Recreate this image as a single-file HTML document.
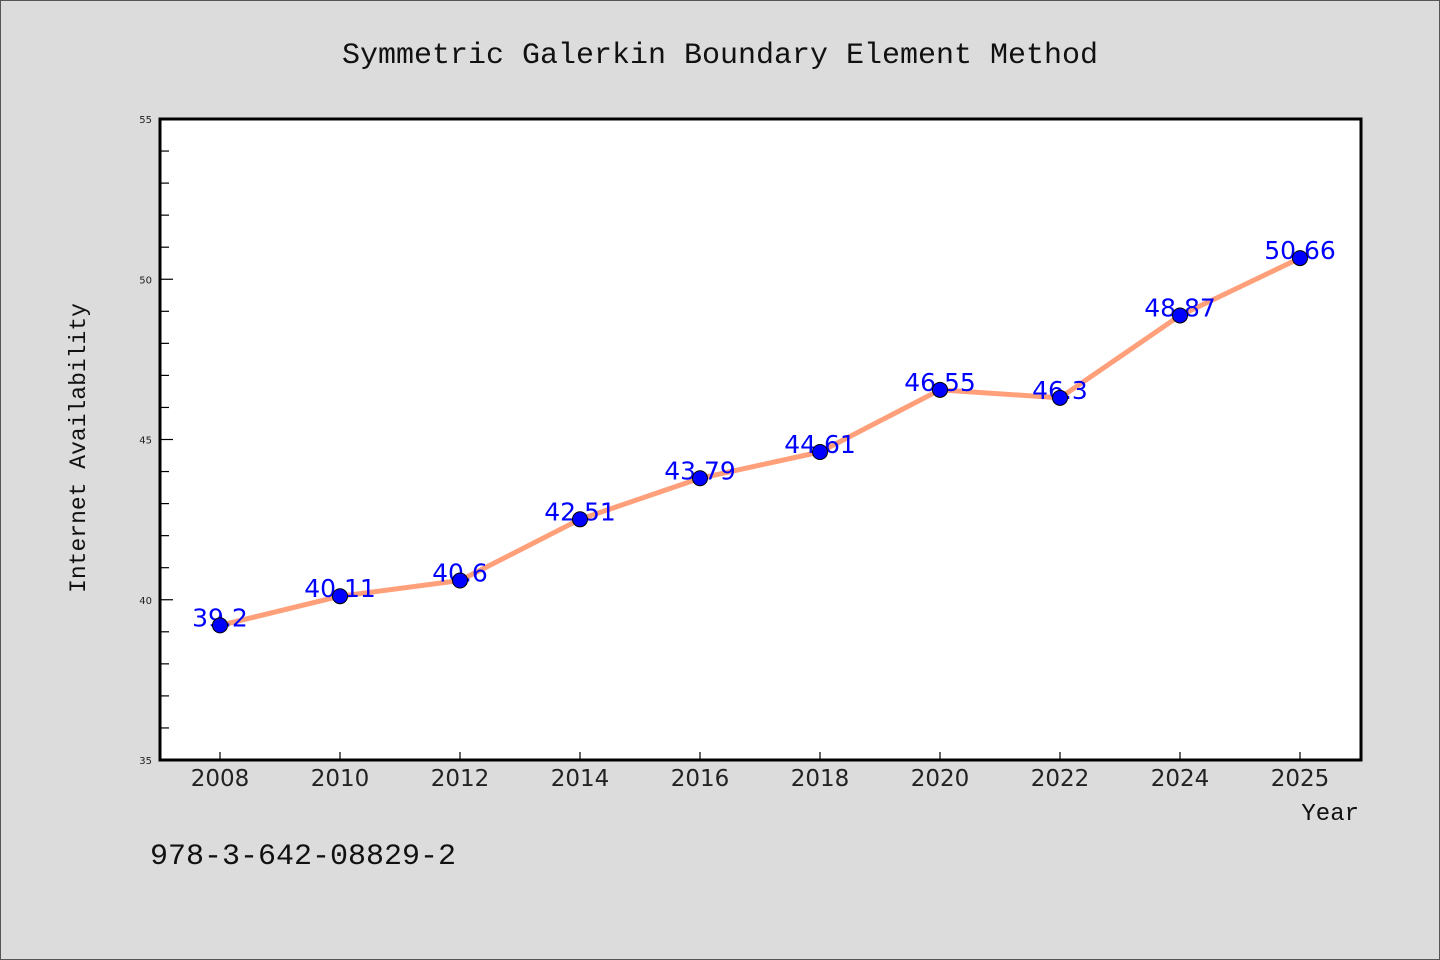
<!DOCTYPE html>
<html><head><meta charset="utf-8"><style>
html,body{margin:0;padding:0;background:#dcdcdc;}
svg{display:block;}
</style></head><body>
<svg id="chart" width="1440" height="960" xmlns="http://www.w3.org/2000/svg">
<rect x="0.5" y="0.5" width="1439" height="959" fill="#dcdcdc" stroke="#555"/>
<text x="720" y="63" text-anchor="middle" font-family="Liberation Mono, monospace" font-size="30" fill="#111">Symmetric Galerkin Boundary Element Method</text>
<rect x="160" y="119" width="1201" height="641" fill="#fff" stroke="#000" stroke-width="3"/>
<g id="yaxis"></g>
<g id="xaxis"></g>
<g id="series"></g>
<text transform="translate(85,448) rotate(-90)" text-anchor="middle" font-family="Liberation Mono, monospace" font-size="23" fill="#111">Internet Availability</text>
<text x="1359" y="820" text-anchor="end" font-family="Liberation Mono, monospace" font-size="24" fill="#111">Year</text>
<text x="150" y="864" font-family="Liberation Mono, monospace" font-size="30" fill="#111">978-3-642-08829-2</text>
</svg>
<script>
const categories = ["2008","2010","2012","2014","2016","2018","2020","2022","2024","2025"];
const values = [39.2,40.11,40.6,42.51,43.79,44.61,46.55,46.3,48.87,50.66];
const yTicks = [35,40,45,50,55];
const yMin = 35, yMax = 55;
const NS = "http://www.w3.org/2000/svg";
const L = 160, R = 1361, T = 119, B = 760;
function y(v){ return B - (v - yMin) / (yMax - yMin) * (B - T); }
function x(i){ return 220 + i * 120; }
function mk(tag, attrs, parent){ const e = document.createElementNS(NS, tag); for (const k in attrs) e.setAttribute(k, attrs[k]); parent.appendChild(e); return e; }
const ya = document.getElementById('yaxis'), xa = document.getElementById('xaxis'), sg = document.getElementById('series');
for (let v = yMin; v <= yMax; v++) {
  const major = yTicks.includes(v);
  const t = mk('line', {x1: L, x2: L + (major ? 13 : 9), y1: y(v), y2: y(v), stroke: '#000', 'stroke-width': 1.2}, ya);
  
  
}
yTicks.forEach(v => {
  const t = mk('text', {x: 152, y: y(v) + 4, 'text-anchor': 'end', 'font-family': 'DejaVu Sans, sans-serif', 'font-size': 10, fill: '#222'}, ya);
  t.textContent = v;
  
  
});
categories.forEach((c, i) => {
  const t = mk('line', {x1: x(i), x2: x(i), y1: B, y2: B - 8, stroke: '#000', 'stroke-width': 1.2}, xa);
  
  
  const l = mk('text', {x: x(i), y: 786, 'text-anchor': 'middle', 'font-family': 'DejaVu Sans, sans-serif', 'font-size': 23, fill: '#222'}, xa);
  l.textContent = c;
  
  
});
const pl = mk('polyline', {points: values.map((v, i) => x(i) + ',' + y(v)).join(' '), fill: 'none', stroke: '#ffa07a', 'stroke-width': 5, 'stroke-linejoin': 'round'}, sg);


values.forEach((v, i) => {
  const lb = mk('text', {x: x(i), y: y(v) + 1, 'text-anchor': 'middle', 'font-family': 'DejaVu Sans, sans-serif', 'font-size': 25, fill: '#0000ff'}, sg);
  lb.textContent = v;
  
  
});
values.forEach((v, i) => {
  const c = mk('circle', {cx: x(i), cy: y(v), r: 7.5, fill: '#0000ff', stroke: '#000', 'stroke-width': 1}, sg);
  
  
});
</script>
</body></html>
